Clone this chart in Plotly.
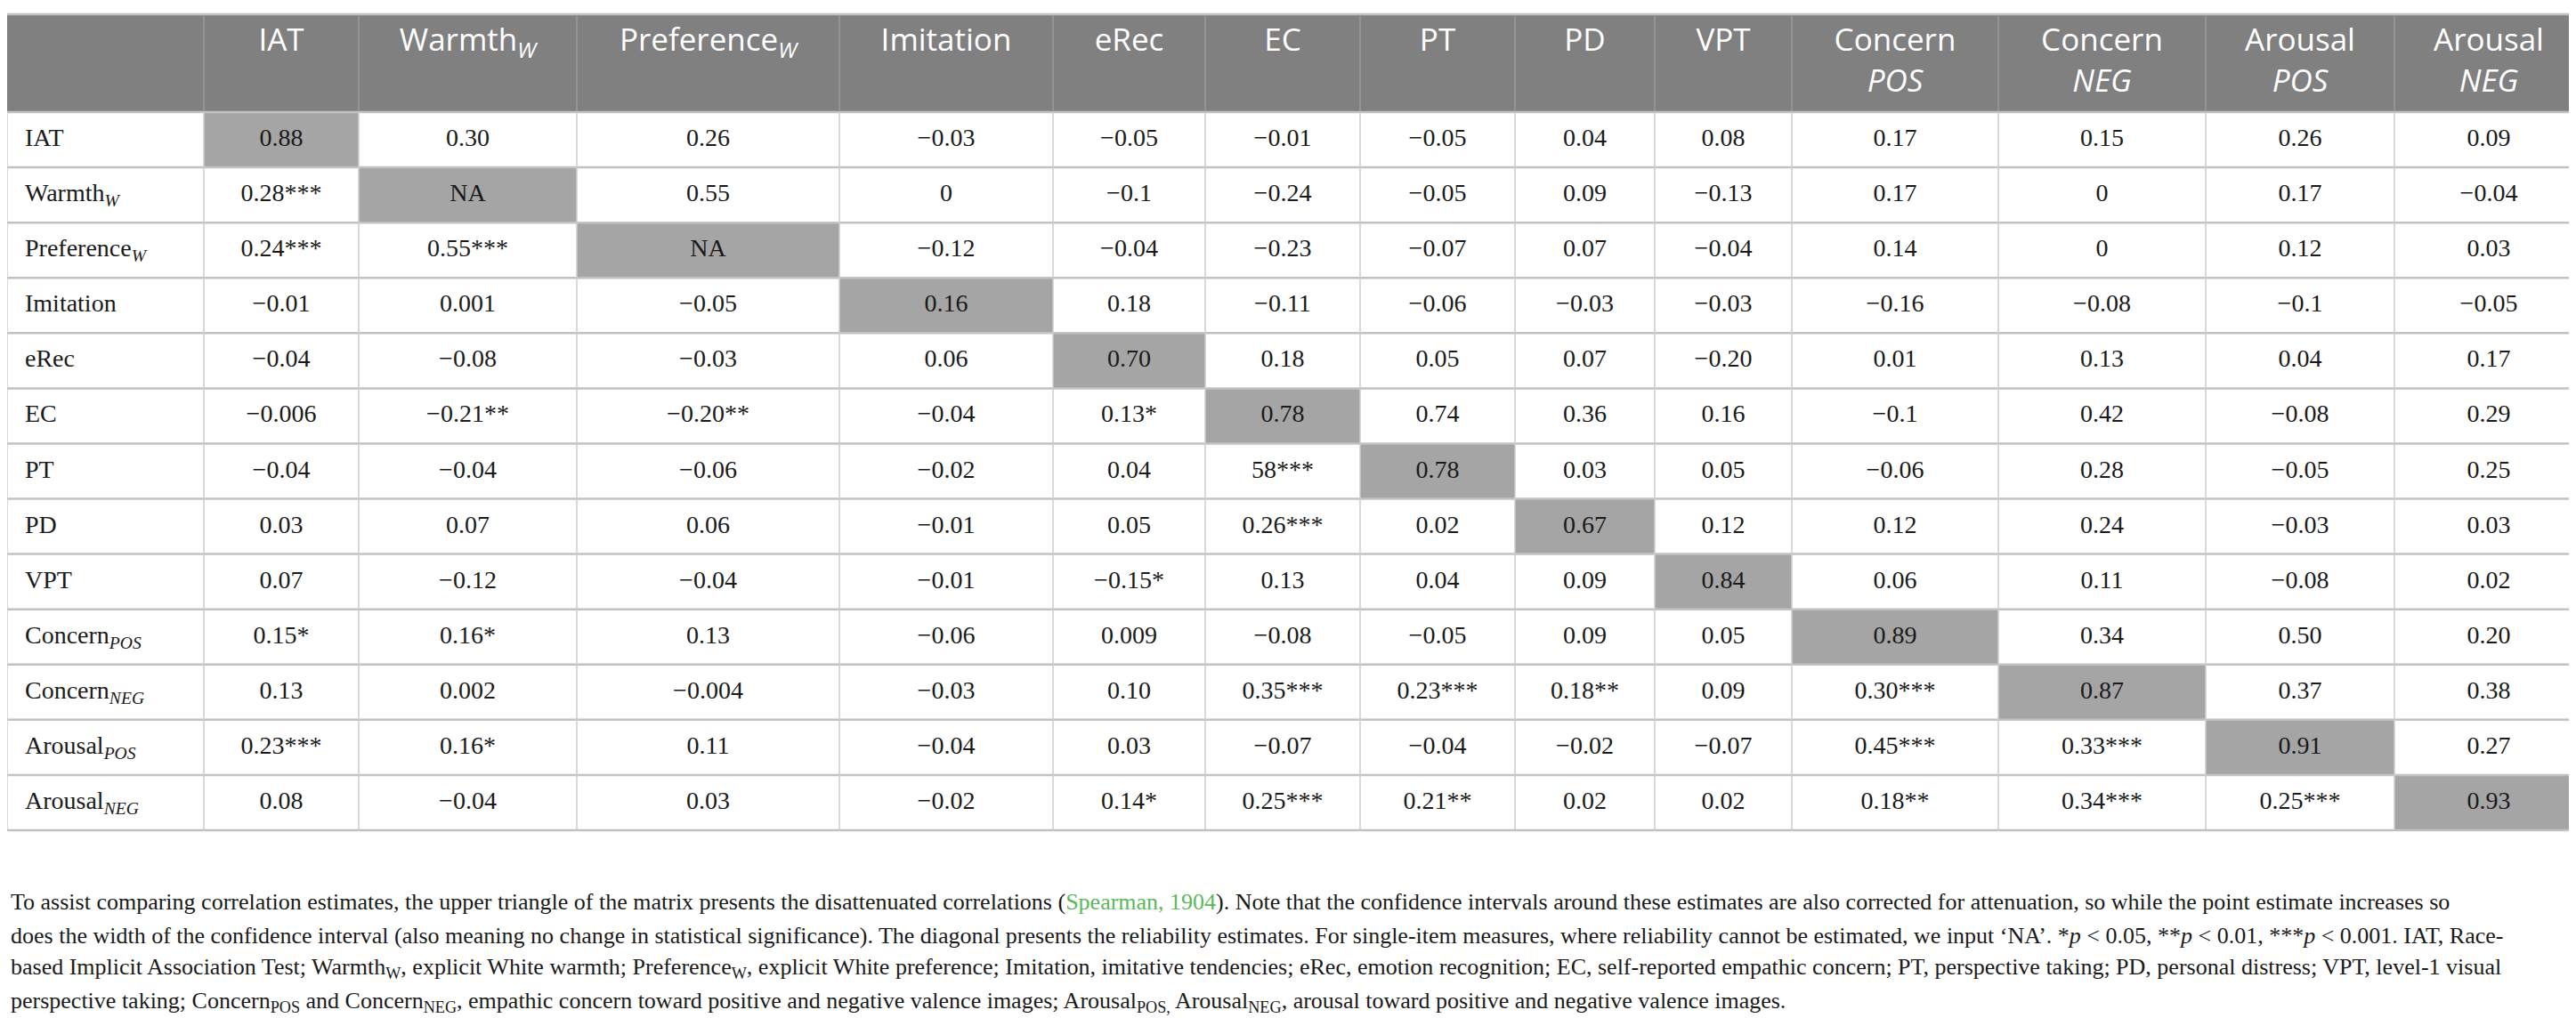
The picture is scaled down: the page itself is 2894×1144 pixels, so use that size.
import plotly.graph_objects as go

# ---------------- data ----------------
col_headers = ["", "IAT", "Warmth<sub><i>W</i></sub>", "Preference<sub><i>W</i></sub>", "Imitation",
               "eRec", "EC", "PT", "PD", "VPT", "Concern<br><i>POS</i>", "Concern<br><i>NEG</i>",
               "Arousal<br><i>POS</i>", "Arousal<br><i>NEG</i>"]

row_labels = ["IAT", "Warmth<sub><i>W</i></sub>", "Preference<sub><i>W</i></sub>", "Imitation", "eRec",
              "EC", "PT", "PD", "VPT", "Concern<sub><i>POS</i></sub>", "Concern<sub><i>NEG</i></sub>",
              "Arousal<sub><i>POS</i></sub>", "Arousal<sub><i>NEG</i></sub>"]

row_iat = ["0.88", "0.30", "0.26", "−0.03", "−0.05", "−0.01", "−0.05", "0.04", "0.08", "0.17", "0.15", "0.26", "0.09"]
row_warmth = ["0.28***", "NA", "0.55", "0", "−0.1", "−0.24", "−0.05", "0.09", "−0.13", "0.17", "0", "0.17", "−0.04"]
row_pref = ["0.24***", "0.55***", "NA", "−0.12", "−0.04", "−0.23", "−0.07", "0.07", "−0.04", "0.14", "0", "0.12", "0.03"]
row_imit = ["−0.01", "0.001", "−0.05", "0.16", "0.18", "−0.11", "−0.06", "−0.03", "−0.03", "−0.16", "−0.08", "−0.1", "−0.05"]
row_erec = ["−0.04", "−0.08", "−0.03", "0.06", "0.70", "0.18", "0.05", "0.07", "−0.20", "0.01", "0.13", "0.04", "0.17"]
row_ec = ["−0.006", "−0.21**", "−0.20**", "−0.04", "0.13*", "0.78", "0.74", "0.36", "0.16", "−0.1", "0.42", "−0.08", "0.29"]
row_pt = ["−0.04", "−0.04", "−0.06", "−0.02", "0.04", "58***", "0.78", "0.03", "0.05", "−0.06", "0.28", "−0.05", "0.25"]
row_pd = ["0.03", "0.07", "0.06", "−0.01", "0.05", "0.26***", "0.02", "0.67", "0.12", "0.12", "0.24", "−0.03", "0.03"]
row_vpt = ["0.07", "−0.12", "−0.04", "−0.01", "−0.15*", "0.13", "0.04", "0.09", "0.84", "0.06", "0.11", "−0.08", "0.02"]
row_cpos = ["0.15*", "0.16*", "0.13", "−0.06", "0.009", "−0.08", "−0.05", "0.09", "0.05", "0.89", "0.34", "0.50", "0.20"]
row_cneg = ["0.13", "0.002", "−0.004", "−0.03", "0.10", "0.35***", "0.23***", "0.18**", "0.09", "0.30***", "0.87", "0.37", "0.38"]
row_apos = ["0.23***", "0.16*", "0.11", "−0.04", "0.03", "−0.07", "−0.04", "−0.02", "−0.07", "0.45***", "0.33***", "0.91", "0.27"]
row_aneg = ["0.08", "−0.04", "0.03", "−0.02", "0.14*", "0.25***", "0.21**", "0.02", "0.02", "0.18**", "0.34***", "0.25***", "0.93"]

rows = [row_iat, row_warmth, row_pref, row_imit, row_erec, row_ec, row_pt, row_pd,
        row_vpt, row_cpos, row_cneg, row_apos, row_aneg]

footnote_lines = [
    "To assist comparing correlation estimates, the upper triangle of the matrix presents the disattenuated correlations "
    "(<span style='color:#5cb85c'>Spearman, 1904</span>). Note that the confidence intervals around these estimates are also "
    "corrected for attenuation, so while the point estimate increases so",
    "does the width of the confidence interval (also meaning no change in statistical significance). The diagonal presents the "
    "reliability estimates. For single-item measures, where reliability cannot be estimated, we input ‘NA’. "
    "*<i>p</i> < 0.05, **<i>p</i> < 0.01, ***<i>p</i> < 0.001. IAT, Race-",
    "based Implicit Association Test; Warmth<sub>W</sub>, explicit White warmth; Preference<sub>W</sub>, explicit White "
    "preference; Imitation, imitative tendencies; eRec, emotion recognition; EC, self-reported empathic concern; PT, "
    "perspective taking; PD, personal distress; VPT, level-1 visual",
    "perspective taking; Concern<sub>POS</sub> and Concern<sub>NEG</sub>, empathic concern toward positive and negative "
    "valence images; Arousal<sub>POS,</sub> Arousal<sub>NEG</sub>, arousal toward positive and negative valence images.",
]

# ---------------- layout geometry (pixels) ----------------
W, H = 2894, 1144
col_edges = [0, 221, 395, 640, 935, 1175, 1346, 1520, 1694, 1851, 2005, 2237, 2470, 2682, 2894]
table_top, header_bottom, table_bottom = 8, 118, 925
n_rows = len(rows)
row_h = (table_bottom - header_bottom) / n_rows
row_edges = [table_top] + [header_bottom + i * row_h for i in range(n_rows + 1)]

HEADER_BG = "#7f807f"
DIAG_BG = "#a4a5a4"
TEXT = "#1a1a1a"

n_cols = len(col_edges) - 1
z = []
for r in range(n_rows + 1):
    line = []
    for c in range(n_cols):
        if r == 0:
            line.append(2)
        elif c >= 1 and c == r:
            line.append(1)
        else:
            line.append(0)
    z.append(line)

fig = go.Figure()
fig.add_trace(go.Heatmap(
    x=col_edges, y=row_edges, z=z, zmin=0, zmax=2,
    colorscale=[[0, "#ffffff"], [0.5, DIAG_BG], [1, HEADER_BG]],
    showscale=False, hoverinfo="skip",
))

col_centers = [(col_edges[i] + col_edges[i + 1]) / 2 for i in range(n_cols)]
row_centers = [(row_edges[i + 1] + row_edges[i + 2]) / 2 for i in range(n_rows)]

# body values
vx, vy, vt = [], [], []
for r, vals in enumerate(rows):
    for c, v in enumerate(vals):
        vx.append(col_centers[c + 1])
        vy.append(row_centers[r])
        vt.append(v)
fig.add_trace(go.Scatter(
    x=vx, y=vy, text=vt, mode="text", textposition="middle center",
    textfont=dict(family="Liberation Serif", size=28, color=TEXT), hoverinfo="skip",
))

# row labels
fig.add_trace(go.Scatter(
    x=[20] * n_rows, y=row_centers, text=row_labels, mode="text", textposition="middle right",
    textfont=dict(family="Liberation Serif", size=28, color=TEXT), hoverinfo="skip",
))

# header labels
fig.add_trace(go.Scatter(
    x=col_centers[1:], y=[23] * (n_cols - 1), text=col_headers[1:], mode="text",
    textposition="bottom center",
    textfont=dict(family="Open Sans", size=35, color="#ffffff"), hoverinfo="skip",
))

shapes = []
# horizontal lines
for i, yv in enumerate(row_edges):
    shapes.append(dict(type="line", xref="x", yref="y", x0=0, x1=W, y0=yv, y1=yv,
                       line=dict(color="#c2c2c2", width=2.5), layer="above"))
# vertical lines
for xv in col_edges:
    shapes.append(dict(type="line", xref="x", yref="y", x0=xv, x1=xv, y0=header_bottom, y1=table_bottom,
                       line=dict(color="#cdcdcd", width=1.5), layer="above"))
    if 0 < xv < W:
        shapes.append(dict(type="line", xref="x", yref="y", x0=xv, x1=xv, y0=table_top + 1, y1=header_bottom - 1,
                           line=dict(color="#9b9b9b", width=1.5), layer="above"))

footnote_y = [1005, 1043, 1080, 1118]
annotations = []
for yv, txt in zip(footnote_y, footnote_lines):
    annotations.append(dict(x=2, y=yv, xref="x", yref="y", text=txt, showarrow=False,
                            xanchor="left", yanchor="middle", align="left",
                            font=dict(family="Liberation Serif", size=26, color=TEXT)))

fig.update_layout(
    width=W, height=H, margin=dict(l=0, r=0, t=0, b=0),
    paper_bgcolor="white", plot_bgcolor="white", showlegend=False,
    xaxis=dict(range=[0, W], visible=False, fixedrange=True),
    yaxis=dict(range=[H, 0], visible=False, fixedrange=True),
    shapes=shapes, annotations=annotations,
)

fig.write_html("out.html", config={"displayModeBar": False})
